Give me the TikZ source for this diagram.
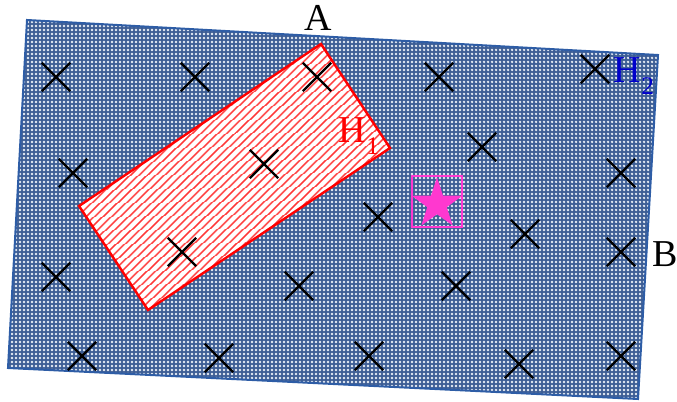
\documentclass[tikz,border=0pt]{standalone}
\usepackage{fontspec}
\setmainfont{Liberation Serif}
\usetikzlibrary{patterns.meta,shapes.misc,shapes.geometric}
\definecolor{Navy}{HTML}{3D5E95}
\definecolor{NavyEdge}{HTML}{2E5DA6}
\definecolor{DotWhite}{HTML}{E8EEF6}
\definecolor{Pink}{HTML}{FF38CF}
\definecolor{HBlue}{HTML}{0000CC}
\newcommand{\lbl}[1]{\fontsize{28.5}{30}\selectfont #1}
\newcommand{\subsc}[1]{\raisebox{-0.3em}{\fontsize{19}{19}\selectfont #1}}

\begin{document}
\begin{tikzpicture}[x=0.75pt,y=-0.75pt]
    \tikzset{
      mark x/.style={draw=black,cross out,line width=1.8pt,minimum size=19.5pt,inner sep=0pt},
      region/.style={line width=1.5pt,draw=NavyEdge,preaction={fill=Navy},
                     pattern={Dots[distance=3pt,radius=0.95pt]},pattern color=DotWhite},
      hatched/.style={line width=1.8pt,draw=red,preaction={fill=white},
                     pattern={Lines[angle=43,distance=4pt,line width=1.25pt]},pattern color=red!80}
    }
    \useasboundingbox (0,0) rectangle (677,402);
    % outer field H2
    \coordinate (p1) at (27,20);
    \coordinate (p2) at (658,55);
    \coordinate (p3) at (638,399);
    \coordinate (p4) at (8,368);
    \path[region] (p1) -- (p2) -- (p3) -- (p4) -- cycle;
    % inner field H1
    \coordinate (q1) at (79,206);
    \coordinate (q2) at (321,44);
    \coordinate (q3) at (390,148);
    \coordinate (q4) at (148,310);
    \path[hatched] (q1) -- (q2) -- (q3) -- (q4) -- cycle;
    % crosses
    \foreach \px/\py [count=\i] in {56/77,195/77,317/77,439/77,595/69,
        73/173,264/164,482/147,621/173,378/217,525/234,621/252,
        182/252,56/277,299/286,456/286,82/356,219/358,369/356,519/364,621/356}
      \node[mark x] (c\i) at (\px,\py) {};
    % target
    \node[draw=Pink,line width=1.1pt,minimum width=37.5pt,minimum height=38pt,inner sep=0pt]
          (tbox) at (437,201.5) {};
    \node[star,star points=5,star point ratio=2.6,fill=Pink,minimum size=40pt,inner sep=0pt]
          (tstar) at (437,204) {};
    % labels
    \node (lA) at (318,18) {\lbl{A}};
    \node (lB) at (665,254) {\lbl{B}};
    \node[text=HBlue] (lH2) at (634,76) {\lbl{H\subsc{2}}};
    \node[text=red] (lH1) at (359,136) {\lbl{H\subsc{1}}};
  \end{tikzpicture}
\end{document}
